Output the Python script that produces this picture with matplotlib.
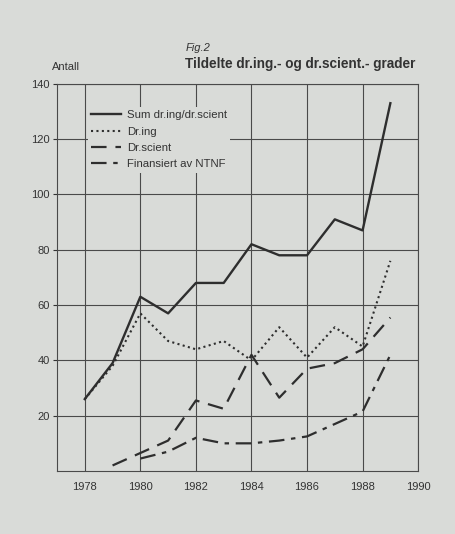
import matplotlib.pyplot as plt

plt.rcParams['font.family'] = ['Liberation Sans', 'DejaVu Sans']

# data
years = [1978, 1979, 1980, 1981, 1982, 1983, 1984, 1985, 1986, 1987, 1988, 1989]
sum_total = [26, 39, 63, 57, 68, 68, 82, 78, 78, 91, 87, 133]
dr_ing = [26, 38, 57, 47, 44, 47, 40, 52, 41, 52, 45, 76]

years_sci = [1979, 1980, 1981, 1982, 1983, 1984, 1985, 1986, 1987, 1988, 1989]
dr_scient = [2, 6.5, 11, 25.5, 22.5, 42, 26.5, 37, 39, 44, 55.5]

years_ntnf = [1980, 1981, 1982, 1983, 1984, 1985, 1986, 1987, 1988, 1989]
ntnf = [4.5, 7, 12, 10, 10, 11, 12.5, 17, 21.5, 42]

xticks = [1978, 1980, 1982, 1984, 1986, 1988, 1990]
yticks = [20, 40, 60, 80, 100, 120, 140]

bg = '#d9dbd8'
ink = '#2e2e2e'

fig = plt.figure(figsize=(4.56, 5.34), dpi=100, facecolor=bg)
ax = fig.add_axes([0.125, 0.118, 0.792, 0.725], facecolor=bg)

ax.plot(years, sum_total, color=ink, lw=1.7, label='Sum dr.ing/dr.scient')
ax.plot(years, dr_ing, color=ink, lw=1.5, linestyle=(0, (1, 1.6)), label='Dr.ing')
ax.plot(years_sci, dr_scient, color=ink, lw=1.6, linestyle=(0, (7, 4)), label='Dr.scient')
ax.plot(years_ntnf, ntnf, color=ink, lw=1.6, linestyle=(0, (7, 3, 2, 3)),
        label='Finansiert av NTNF')

ax.set_xlim(1977, 1990)
ax.set_ylim(0, 140)
ax.set_xticks(xticks)
ax.set_yticks(yticks)
ax.grid(True, color='#4a4a4a', lw=0.8)
for s in ax.spines.values():
    s.set_color('#4a4a4a')
    s.set_linewidth(0.8)
ax.tick_params(axis='x', length=0, pad=8, labelsize=8, colors='#333333')
ax.tick_params(axis='y', length=3, pad=2, labelsize=8, colors='#333333')

leg = ax.legend(loc='upper left', bbox_to_anchor=(0.07, 0.955), frameon=True,
                fontsize=8.2, handlelength=2.6, handletextpad=0.5,
                labelspacing=0.55, labelcolor='#333333', borderpad=0.3,
                facecolor=bg, edgecolor='none', framealpha=1, fancybox=False)

fig.text(0.408, 0.905, 'Fig.2', fontsize=8, style='italic', color='#333333')
fig.text(0.405, 0.873, 'Tildelte dr.ing.- og dr.scient.- grader', fontsize=9.8,
         fontweight='bold', color='#333333')
fig.text(0.114, 0.868, 'Antall', fontsize=8, color='#333333')

fig.savefig('out.png', dpi=100, facecolor=bg)
